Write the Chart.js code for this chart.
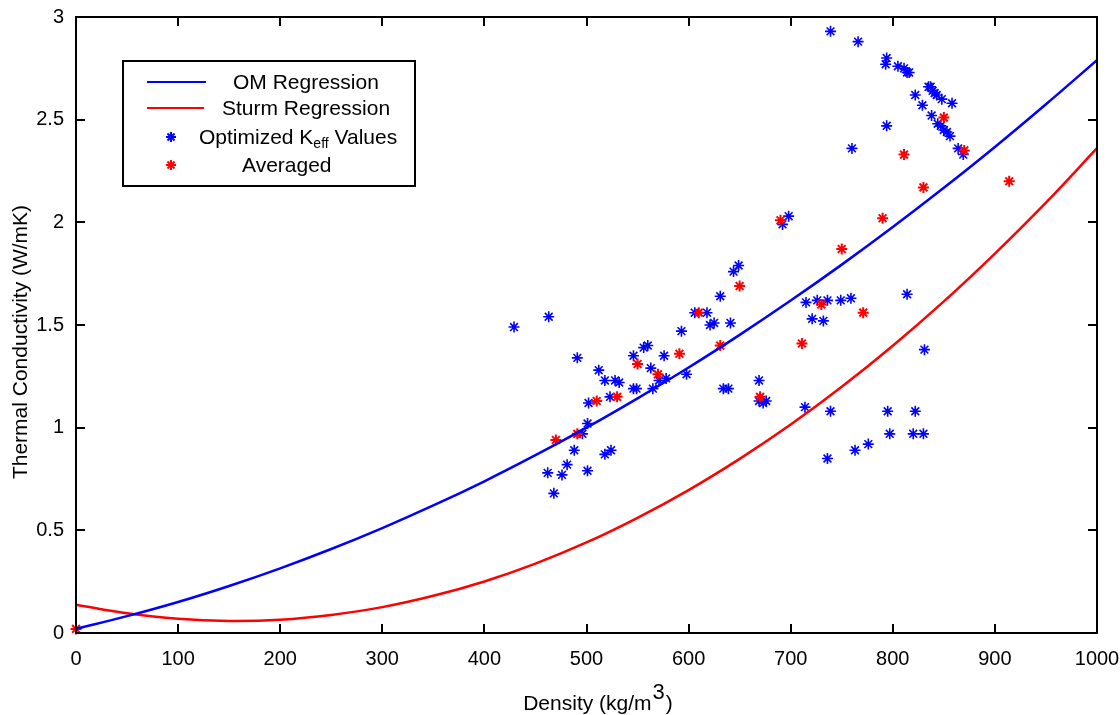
<!DOCTYPE html>
<html><head><meta charset="utf-8">
<script src="https://cdn.jsdelivr.net/npm/chart.js@4.4.1/dist/chart.umd.min.js"></script>
<style>html,body{margin:0;padding:0;background:#fff;} #wrap{width:1120px;height:715px;position:relative;}</style>
</head><body><div id="wrap"><canvas id="c" width="1120" height="715"></canvas></div>
<script>
// Regression curves, every 50 kg/m3
const curveDensity = [0,50,100,150,200,250,300,350,400,450,500,550,600,650,700,750,800,850,900,950,1000];
const omK    = [0.020,0.082,0.151,0.229,0.315,0.409,0.511,0.621,0.739,0.866,1.000,1.143,1.293,1.452,1.619,1.794,1.977,2.168,2.367,2.575,2.790];
const sturmK = [0.138,0.096,0.069,0.059,0.065,0.088,0.126,0.181,0.251,0.338,0.441,0.561,0.696,0.848,1.015,1.199,1.399,1.615,1.848,2.096,2.361];

// Optimized Keff values (blue asterisks)
const optDensity = [429,463,491,512,518,528,532,546,556,560,563,576,571,578,593,598,606,618,621,625,631,641,644,649,
  546,549,565,523,502,501,496,488,481,462,476,501,468,518,524,634,639,669,669,676,673,698,692,715,726,736,749,759,721,732,
  814,831,714,739,736,763,776,795,797,822,820,830,739,766,794,793,805,811,814,816,822,835,837,839,841,843,848,858,829,838,
  844,847,850,853,856,794,760,864,869];
const optK = [1.49,1.54,1.34,1.28,1.23,1.23,1.22,1.35,1.39,1.40,1.29,1.35,1.23,1.24,1.47,1.26,1.56,1.56,1.50,1.51,1.64,1.51,1.76,1.79,
  1.19,1.19,1.19,1.15,1.12,1.02,0.97,0.89,0.82,0.78,0.77,0.79,0.68,0.87,0.89,1.19,1.19,1.23,1.13,1.13,1.12,2.03,1.99,1.61,1.62,1.62,1.62,1.63,1.53,1.52,
  1.65,1.38,1.10,1.08,0.85,0.89,0.92,1.08,0.97,1.08,0.97,0.97,2.93,2.88,2.80,2.77,2.76,2.75,2.73,2.73,2.62,2.66,2.66,2.64,2.63,2.62,2.60,2.58,2.57,2.52,
  2.48,2.47,2.45,2.44,2.42,2.47,2.36,2.36,2.33];

// Averaged values (red asterisks)
const avgDensity = [0,470,491,510,530,550,570,591,610,631,650,670,690,730,771,711,750,790,830,811,850,870,914];
const avgK       = [0.02,0.94,0.97,1.13,1.15,1.31,1.26,1.36,1.56,1.40,1.69,1.15,2.01,1.60,1.56,1.41,1.87,2.02,2.17,2.33,2.51,2.35,2.20];

const xTicks = [0,100,200,300,400,500,600,700,800,900,1000];
const yTicks = [0,0.5,1,1.5,2,2.5,3];
const legendNames = ['OM Regression','Sturm Regression','Optimized K','eff',' Values','Averaged'];
const xTitle = ['Density (kg/m','3',')'];
const yTitle = 'Thermal Conductivity (W/mK)';

const FF = "'Liberation Sans', Arial, Helvetica, sans-serif";
const BLUE = '#0000ff', RED = '#ff0000';

const toXY = (xs, ys) => xs.map((v,i)=>({x:v, y:ys[i]}));

const decor = {
  id: 'decor',
  afterDraw(chart) {
    const {ctx, chartArea:a, scales:{x, y}} = chart;
    ctx.save();
    // frame
    ctx.strokeStyle = '#000'; ctx.lineWidth = 2;
    ctx.strokeRect(a.left, a.top, a.right - a.left, a.bottom - a.top);
    // inward ticks on all four sides
    const L = 9;
    ctx.lineWidth = 2;
    ctx.beginPath();
    x.ticks.forEach(t => {
      const px = Math.round(x.getPixelForValue(t.value));
      ctx.moveTo(px, a.bottom); ctx.lineTo(px, a.bottom - L);
      ctx.moveTo(px, a.top); ctx.lineTo(px, a.top + L);
    });
    y.ticks.forEach(t => {
      const py = Math.round(y.getPixelForValue(t.value));
      ctx.moveTo(a.left, py); ctx.lineTo(a.left + L, py);
      ctx.moveTo(a.right, py); ctx.lineTo(a.right - L, py);
    });
    ctx.stroke();

    // legend
    const bx = 123, by = 61, bw = 292, bh = 125;
    ctx.fillStyle = '#fff';
    ctx.fillRect(bx, by, bw, bh);
    ctx.lineWidth = 2; ctx.strokeStyle = '#000';
    ctx.strokeRect(bx, by, bw, bh);
    ctx.lineWidth = 2;
    ctx.strokeStyle = BLUE; ctx.beginPath(); ctx.moveTo(147, 82); ctx.lineTo(206, 82); ctx.stroke();
    ctx.strokeStyle = RED; ctx.beginPath(); ctx.moveTo(147, 108); ctx.lineTo(204, 108); ctx.stroke();
    ctx.strokeStyle = BLUE;
    Chart.helpers.drawPoint(ctx, {pointStyle:'star', radius:5, rotation:0, borderWidth:2.2}, 171, 137);
    ctx.strokeStyle = RED;
    Chart.helpers.drawPoint(ctx, {pointStyle:'star', radius:5, rotation:0, borderWidth:2.2}, 171, 165);

    ctx.fillStyle = '#000';
    ctx.textBaseline = 'middle'; ctx.textAlign = 'left';
    ctx.font = `21px ${FF}`;
    ctx.fillText(legendNames[0], 233, 83);
    ctx.fillText(legendNames[1], 222, 109);
    ctx.fillText(legendNames[2], 199, 138);
    let w = ctx.measureText(legendNames[2]).width;
    ctx.font = `14px ${FF}`;
    ctx.fillText(legendNames[3], 199 + w, 144);
    const ws = ctx.measureText(legendNames[3]).width;
    ctx.font = `21px ${FF}`;
    ctx.fillText(legendNames[4], 199 + w + ws, 138);
    ctx.fillText(legendNames[5], 242, 166);

    // y axis title
    ctx.save();
    ctx.translate(21, 342);
    ctx.rotate(-Math.PI / 2);
    ctx.textAlign = 'center'; ctx.textBaseline = 'middle';
    ctx.font = `21px ${FF}`;
    ctx.fillText(yTitle, 0, 0);
    ctx.restore();

    // x axis title with superscript
    ctx.textBaseline = 'alphabetic'; ctx.textAlign = 'left';
    ctx.font = `21px ${FF}`;
    const w1 = ctx.measureText(xTitle[0]).width;
    ctx.font = `22px ${FF}`;
    const w2 = ctx.measureText(xTitle[1]).width;
    ctx.font = `21px ${FF}`;
    const w3 = ctx.measureText(xTitle[2]).width;
    let sx = 597 - (w1 + w2 + w3) / 2;
    ctx.fillText(xTitle[0], sx, 710);
    ctx.font = `22px ${FF}`;
    ctx.fillText(xTitle[1], sx + w1 + 1, 699);
    ctx.font = `21px ${FF}`;
    ctx.fillText(xTitle[2], sx + w1 + w2 + 2, 710);
    ctx.restore();
  }
};

new Chart(document.getElementById('c'), {
  type: 'scatter',
  data: {
    datasets: [
      { label: 'Optimized Keff Values', data: toXY(optDensity, optK), showLine: false,
        pointStyle: 'star', pointRadius: 5.5, pointBorderColor: BLUE, pointBackgroundColor: BLUE, pointBorderWidth: 1.6, order: 3, clip: false },
      { label: 'Averaged', data: toXY(avgDensity, avgK), showLine: false,
        pointStyle: 'star', pointRadius: 5.5, pointBorderColor: RED, pointBackgroundColor: RED, pointBorderWidth: 2, order: 2, clip: false },
      { label: 'OM Regression', data: toXY(curveDensity, omK), showLine: true, pointRadius: 0,
        borderColor: BLUE, borderWidth: 2.5, tension: 0.4, fill: false, order: 1 },
      { label: 'Sturm Regression', data: toXY(curveDensity, sturmK), showLine: true, pointRadius: 0,
        borderColor: RED, borderWidth: 2.5, tension: 0.4, fill: false, order: 1 }
    ]
  },
  options: {
    responsive: false,
    animation: false,
    devicePixelRatio: 1,
    layout: { padding: { top: 17, right: 23, left: 0, bottom: 0 } },
    plugins: { legend: { display: false }, tooltip: { enabled: false }, title: { display: false } },
    scales: {
      x: {
        type: 'linear', min: 0, max: 1000,
        afterBuildTicks: s => { s.ticks = xTicks.map(v => ({value: v})); },
        afterFit: s => { s.height = 82; s.paddingLeft = 0; s.paddingRight = 0; },
        grid: { display: false, drawTicks: false },
        border: { display: false },
        ticks: { color: '#000', font: { family: FF, size: 20 }, padding: 14, maxRotation: 0, autoSkip: false,
                 callback: v => String(v) }
      },
      y: {
        type: 'linear', min: 0, max: 3,
        afterBuildTicks: s => { s.ticks = yTicks.map(v => ({value: v})); },
        afterFit: s => { s.width = 76; s.paddingTop = 0; s.paddingBottom = 0; },
        grid: { display: false, drawTicks: false },
        border: { display: false },
        ticks: { color: '#000', font: { family: FF, size: 20 }, padding: 12, autoSkip: false,
                 callback: v => String(v) }
      }
    }
  },
  plugins: [decor]
});
</script>
</body></html>
